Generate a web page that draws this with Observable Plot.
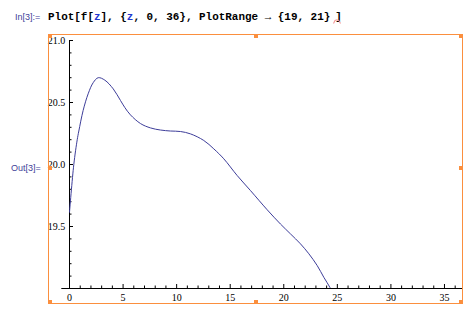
<!DOCTYPE html>
<html><head><meta charset="utf-8">
<script src="https://cdn.jsdelivr.net/npm/d3@7"></script>
<script src="https://cdn.jsdelivr.net/npm/@observablehq/plot@0.6"></script>
<style>
html,body{margin:0;padding:0;background:#fff;}
#page{position:relative;width:474px;height:317px;overflow:hidden;background:#fff;}
.lbl{position:absolute;font-family:"Liberation Sans",Arial,sans-serif;font-size:9px;line-height:9px;color:#3f3f99;white-space:nowrap;}
#code{position:absolute;left:48px;top:11.8px;font-family:"Liberation Mono","DejaVu Sans Mono",monospace;font-weight:bold;font-size:10.95px;line-height:10.95px;white-space:pre;color:#000;}
#code .v{color:#1f36d0;}
#code .cl{margin-left:5px;}
#squig{position:absolute;left:333px;top:19px;width:8px;height:5px;}
#chart{position:absolute;left:0;top:30px;}
#frame{position:absolute;left:48px;top:34px;width:415px;height:270px;box-sizing:border-box;border:1px solid #fb8f3e;pointer-events:none;}
.h{position:absolute;width:4px;height:4px;background:#fb8f3e;pointer-events:none;}
</style></head>
<body>
<div id="page">
  <div class="lbl" style="left:15px;top:13px;">In[3]:=</div>
  <div id="code">Plot[f[<span class="v">z</span>], {<span class="v">z</span>, 0, 36}, PlotRange → {19, 21}<span class="cl">]</span></div>
  <svg id="squig" viewBox="0 0 8 5"><polyline points="0.5,4.5 2,1.5 4,0.8 6,1.8 7.5,4.5" fill="none" stroke="#f29a9a" stroke-width="1.1"/></svg>
  <div class="lbl" style="left:11px;top:164px;">Out[3]=</div>
  <div id="chart"></div>
  <div id="frame"></div>
  <div class="h" style="left:48px;top:34px;"></div>
  <div class="h" style="left:254px;top:34px;"></div>
  <div class="h" style="left:459px;top:34px;"></div>
  <div class="h" style="left:48px;top:166px;"></div>
  <div class="h" style="left:459px;top:166px;"></div>
  <div class="h" style="left:48px;top:300px;"></div>
  <div class="h" style="left:254px;top:300px;"></div>
  <div class="h" style="left:459px;top:300px;"></div>
</div>
<script>
// Curve samples (z, f[z])
const curveX = [0, 0.4, 0.72, 0.87, 1.27, 1.74, 2.21, 2.68, 3.3, 4.08, 4.76, 5.16, 5.69, 6.63, 7.56, 8.49, 9.43, 10.36, 11.29, 12.53, 13.47, 14.4, 15.65, 16.89, 18.45, 19.69, 20.63, 21.56, 22.34, 23.12, 23.74, 24.3, 24.8];
const curveY = [19.615, 20.0, 20.2, 20.27, 20.435, 20.57, 20.66, 20.7, 20.68, 20.61, 20.516, 20.46, 20.40, 20.33, 20.295, 20.278, 20.27, 20.266, 20.247, 20.194, 20.126, 20.046, 19.911, 19.79, 19.635, 19.52, 19.44, 19.36, 19.28, 19.185, 19.09, 19.01, 18.92];

const xMajor = [0, 5, 10, 15, 20, 25, 30, 35];
const xMinor = d3.range(0, 37).filter(d => d % 5 !== 0);
const yMajor = [19.5, 20.0, 20.5, 21.0];
const yMinor = [19.1, 19.2, 19.3, 19.4, 19.6, 19.7, 19.8, 19.9, 20.1, 20.2, 20.3, 20.4, 20.6, 20.7, 20.8, 20.9];
const xRange = [0, 36];
const yRange = [19, 21];

const W = 474, H = 287, mL = 61.3, mR = 11.6, mT = 10, mB = 29;
const pad = 0.02 * (xRange[1] - xRange[0]);
const xDomain = [xRange[0] - pad, xRange[1] + pad];
const pxPerX = (W - mL - mR) / (xDomain[1] - xDomain[0]);
const pxPerY = (H - mT - mB) / (yRange[1] - yRange[0]);
const majorLen = 4, minorLen = 2.5;

const data = curveX.map((x, i) => ({x, y: curveY[i]}));

const chart = Plot.plot({
  width: W, height: H,
  marginLeft: mL, marginRight: mR, marginTop: mT, marginBottom: mB,
  x: {domain: xDomain, label: null},
  y: {domain: yRange, label: null},
  style: {background: "transparent", fontFamily: "'Liberation Serif', 'Times New Roman', serif", fontSize: "10px", color: "#000", overflow: "visible"},
  marks: [
    Plot.ruleY([yRange[0]], {x1: xDomain[0], x2: xDomain[1], stroke: "#000"}),
    Plot.ruleX([0], {y1: yRange[0], y2: yRange[1], stroke: "#000"}),
    Plot.ruleX(xMajor, {x: d => d, y1: yRange[0], y2: yRange[0] + majorLen / pxPerY, stroke: "#000"}),
    Plot.ruleX(xMinor, {x: d => d, y1: yRange[0], y2: yRange[0] + minorLen / pxPerY, stroke: "#000"}),
    Plot.ruleY(yMajor, {y: d => d, x1: 0, x2: majorLen / pxPerX, stroke: "#000"}),
    Plot.ruleY(yMinor, {y: d => d, x1: 0, x2: minorLen / pxPerX, stroke: "#000"}),
    Plot.axisX({ticks: xMajor, tickSize: 0, tickPadding: 5, tickFormat: d => String(d), label: null, fill: "#000"}),
    Plot.axisY({ticks: yMajor, tickSize: 0, tickPadding: 0, dx: 3.5, tickFormat: d => d.toFixed(1), label: null, fill: "#000"}),
    Plot.line(data, {x: "x", y: "y", stroke: "#3d3d99", strokeWidth: 1, curve: "catmull-rom", clip: true})
  ]
});
document.getElementById("chart").appendChild(chart);
</script>
</body></html>
